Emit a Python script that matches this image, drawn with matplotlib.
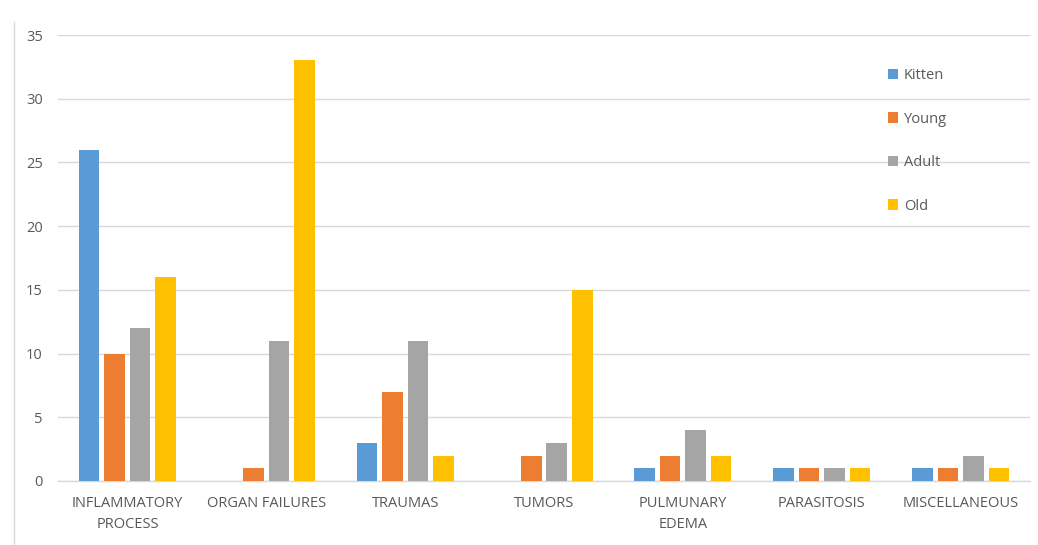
import matplotlib
matplotlib.use("Agg")
import matplotlib.pyplot as plt
from matplotlib.lines import Line2D
import numpy as np

categories = ["INFLAMMATORY\nPROCESS", "ORGAN FAILURES", "TRAUMAS", "TUMORS",
              "PULMUNARY\nEDEMA", "PARASITOSIS", "MISCELLANEOUS"]
series_names = ["Kitten", "Young", "Adult", "Old"]
kitten = [26, 0, 3, 0, 1, 1, 1]
young = [10, 1, 7, 2, 2, 1, 1]
adult = [12, 11, 11, 3, 4, 1, 2]
old = [16, 33, 2, 15, 2, 1, 1]
colors = ["#5B9BD5", "#ED7D31", "#A5A5A5", "#FFC000"]
yticks = [0, 5, 10, 15, 20, 25, 30, 35]

plt.rcParams['font.family'] = ['Open Sans', 'DejaVu Sans']
fig = plt.figure(figsize=(10.38, 5.45), dpi=100)
ax = fig.add_axes([58/1038, 1-481/545, (1030-58)/1038, (481-35)/545])

x = np.arange(len(categories))
pitch = 0.184
width = 0.148
for i, (vals, name, c) in enumerate(zip([kitten, young, adult, old], series_names, colors)):
    ax.bar(x + (i - 1.5) * pitch, vals, width, color=c, label=name, zorder=3)

ax.set_xlim(-0.5, len(categories) - 0.5)
ax.set_ylim(0, 35)
ax.set_yticks(yticks)
ax.set_yticklabels([str(v) for v in yticks])
ax.set_xticks(x)
ax.set_xticklabels(categories, linespacing=1.55)
ax.grid(axis='y', color='#d9d9d9', linewidth=1, zorder=0)
for s in ['top', 'right', 'left']:
    ax.spines[s].set_visible(False)
ax.spines['bottom'].set_color('#d9d9d9')
ax.spines['bottom'].set_linewidth(1)
ax.tick_params(axis='both', length=0, colors='#595959', labelsize=10.5)
ax.tick_params(axis='y', pad=11)
ax.tick_params(axis='x', pad=11)

leg = ax.legend(loc='upper left', bbox_to_anchor=(0.84, 0.955), frameon=False,
                handlelength=0.7, handleheight=0.7, handletextpad=0.4,
                labelspacing=1.95, fontsize=10.5)
for t in leg.get_texts():
    t.set_color('#595959')

fig.add_artist(Line2D([14/1038, 14/1038], [0, 1-22/545], transform=fig.transFigure,
                      color='#d9d9d9', linewidth=1))

fig.savefig("out.png", dpi=100)
